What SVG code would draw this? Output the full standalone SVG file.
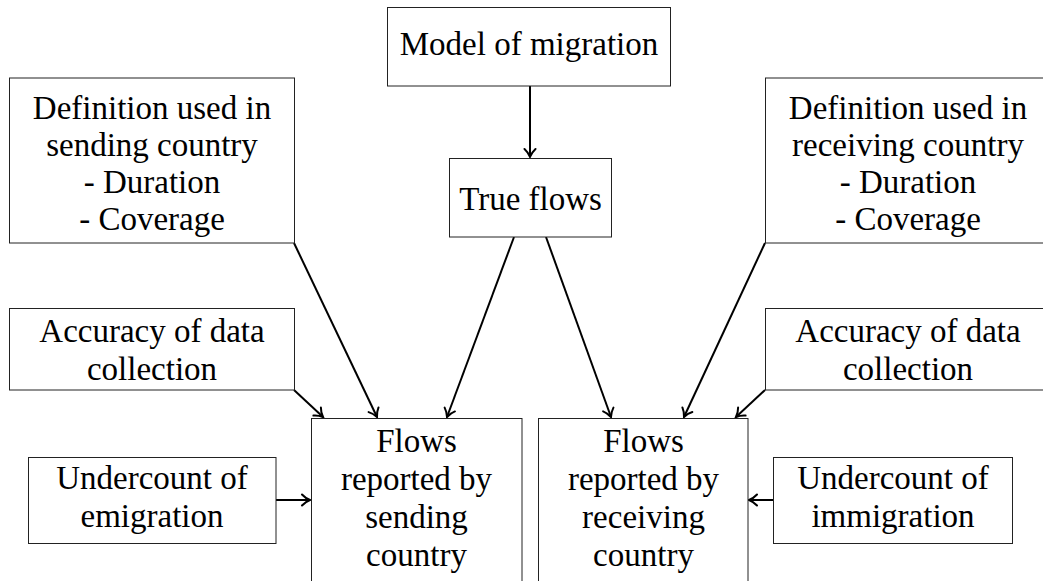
<svg xmlns="http://www.w3.org/2000/svg" width="1043" height="581" viewBox="0 0 1043 581">
<style>
.box{fill:#fff;stroke:#222;stroke-width:1}
.t{font-family:'Liberation Serif','DejaVu Serif',serif;font-size:33px;fill:#000;text-anchor:middle}
.c{stroke:#000;stroke-width:2;fill:none;marker-end:url(#ah)}
</style>
<defs>
<marker id="ah" markerUnits="userSpaceOnUse" viewBox="-10 -7 12 14" markerWidth="12" markerHeight="14" refX="0" refY="0" orient="auto">
<path d="M-8,-5.5 C-5,-2.2 -1.5,-0.6 0,0 C-1.5,0.6 -5,2.2 -8,5.5" fill="none" stroke="#000" stroke-width="2" stroke-linecap="round"/>
</marker>
</defs>
<g id="connectors">
<line class="c" x1="530" y1="86" x2="530" y2="157"/>
<line class="c" x1="294" y1="243" x2="377" y2="417"/>
<line class="c" x1="514" y1="237" x2="447" y2="417"/>
<line class="c" x1="546" y1="237" x2="611" y2="417"/>
<line class="c" x1="765" y1="243" x2="684" y2="417"/>
<line class="c" x1="294" y1="390" x2="323" y2="417"/>
<line class="c" x1="765" y1="390" x2="736" y2="417"/>
<line class="c" x1="276" y1="500" x2="310" y2="500"/>
<line class="c" x1="773" y1="500" x2="749" y2="500"/>
</g>
<g id="model">
<rect class="box" x="387.5" y="7.5" width="283" height="78.5"/>
<text class="t" x="529" y="55" font-family="Liberation Serif">Model of migration</text>
</g>
<g id="trueflows">
<rect class="box" x="449.5" y="158.5" width="162" height="78.5"/>
<text class="t" x="530.5" y="210">True flows</text>
</g>
<g id="defsending">
<rect class="box" x="9.5" y="78" width="285" height="165"/>
<text class="t" x="152" y="119">Definition used in</text>
<text class="t" x="152" y="156">sending country</text>
<text class="t" x="152" y="193">- Duration</text>
<text class="t" x="152" y="230">- Coverage</text>
</g>
<g id="defreceiving">
<rect class="box" x="765.5" y="78" width="286" height="165"/>
<text class="t" x="908" y="119">Definition used in</text>
<text class="t" x="908" y="156">receiving country</text>
<text class="t" x="908" y="193">- Duration</text>
<text class="t" x="908" y="230">- Coverage</text>
</g>
<g id="accsending">
<rect class="box" x="9.5" y="308.5" width="285" height="81.5"/>
<text class="t" x="152" y="342">Accuracy of data</text>
<text class="t" x="152" y="380">collection</text>
</g>
<g id="accreceiving">
<rect class="box" x="765.5" y="308.5" width="286" height="81.5"/>
<text class="t" x="908" y="342">Accuracy of data</text>
<text class="t" x="908" y="380">collection</text>
</g>
<g id="underemig">
<rect class="box" x="28.5" y="457.5" width="247.5" height="86"/>
<text class="t" x="152" y="488.5">Undercount of</text>
<text class="t" x="152" y="527">emigration</text>
</g>
<g id="underimmig">
<rect class="box" x="773.5" y="457.5" width="239" height="86"/>
<text class="t" x="893" y="488.5">Undercount of</text>
<text class="t" x="893" y="527">immigration</text>
</g>
<g id="flowssending">
<rect class="box" x="311.5" y="418.5" width="210.5" height="180"/>
<text class="t" x="416.5" y="452">Flows</text>
<text class="t" x="416.5" y="490">reported by</text>
<text class="t" x="416.5" y="528">sending</text>
<text class="t" x="416.5" y="566">country</text>
</g>
<g id="flowsreceiving">
<rect class="box" x="538.5" y="418.5" width="209.5" height="180"/>
<text class="t" x="643.5" y="452">Flows</text>
<text class="t" x="643.5" y="490">reported by</text>
<text class="t" x="643.5" y="528">receiving</text>
<text class="t" x="643.5" y="566">country</text>
</g>
</svg>
